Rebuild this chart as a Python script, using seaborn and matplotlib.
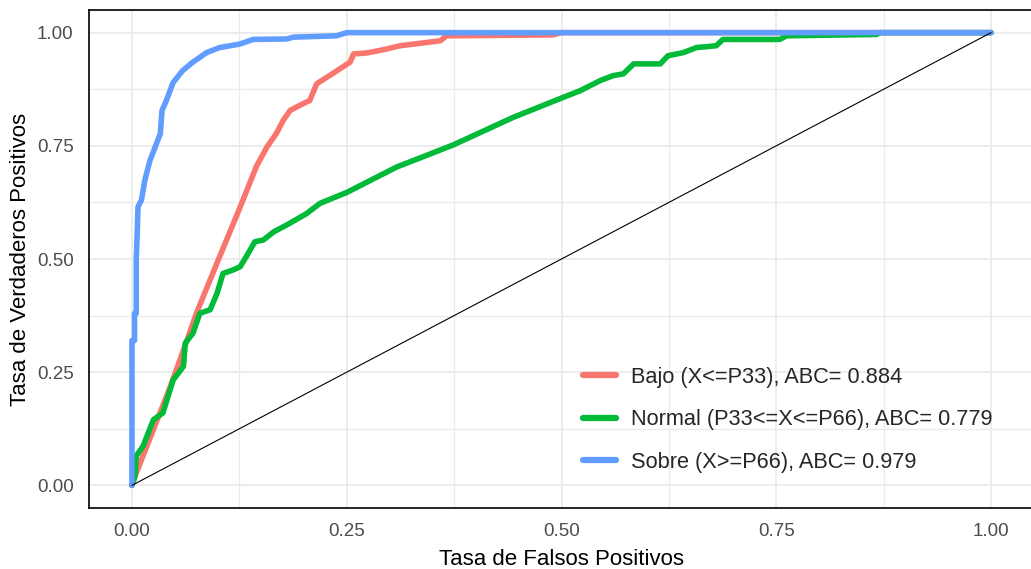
import numpy as np
import pandas as pd
import matplotlib
matplotlib.use("Agg")
import matplotlib.pyplot as plt
import seaborn as sns

# ROC curves (false positive rate, true positive rate) per class
bajo_fpr = [0.0, 0.0035, 0.044, 0.064, 0.075, 0.102, 0.126, 0.145, 0.157, 0.168, 0.176,
            0.184, 0.199, 0.207, 0.215, 0.234, 0.254, 0.258, 0.273, 0.292, 0.312, 0.359,
            0.366, 0.49, 0.50, 1.0]
bajo_tpr = [0.0, 0.02, 0.215, 0.32, 0.38, 0.505, 0.615, 0.705, 0.747, 0.777, 0.806,
            0.828, 0.843, 0.85, 0.887, 0.91, 0.935, 0.953, 0.955, 0.962, 0.971, 0.982,
            0.993, 0.995, 1.0, 1.0]

normal_fpr = [0.0, 0.0035, 0.005, 0.013, 0.025, 0.036, 0.048, 0.060, 0.062, 0.071, 0.079,
              0.091, 0.099, 0.106, 0.118, 0.126, 0.133, 0.143, 0.153, 0.165, 0.18, 0.203,
              0.219, 0.25, 0.308, 0.374, 0.444, 0.502, 0.522, 0.545, 0.56, 0.572, 0.584,
              0.615, 0.624, 0.642, 0.657, 0.68, 0.688, 0.754, 0.762, 0.867, 0.87, 1.0]
normal_tpr = [0.0, 0.02, 0.065, 0.087, 0.145, 0.16, 0.233, 0.263, 0.314, 0.336, 0.38,
              0.388, 0.424, 0.468, 0.476, 0.483, 0.505, 0.538, 0.542, 0.56, 0.575, 0.60,
              0.623, 0.647, 0.703, 0.752, 0.813, 0.857, 0.872, 0.894, 0.905, 0.909, 0.931,
              0.931, 0.949, 0.956, 0.967, 0.971, 0.985, 0.985, 0.993, 0.996, 1.0, 1.0]

sobre_fpr = [0.0, 0.0, 0.003, 0.003, 0.005, 0.005, 0.006, 0.007, 0.011, 0.015, 0.021,
             0.027, 0.033, 0.035, 0.040, 0.048, 0.059, 0.071, 0.087, 0.102, 0.126, 0.141,
             0.18, 0.188, 0.238, 0.25, 1.0]
sobre_tpr = [0.0, 0.32, 0.32, 0.38, 0.38, 0.50, 0.55, 0.615, 0.63, 0.674, 0.718,
             0.747, 0.777, 0.828, 0.850, 0.89, 0.916, 0.935, 0.956, 0.967, 0.975, 0.985,
             0.986, 0.99, 0.993, 1.0, 1.0]

class_labels = ["Bajo (X<=P33), ABC= 0.884",
                "Normal (P33<=X<=P66), ABC= 0.779",
                "Sobre (X>=P66), ABC= 0.979"]
class_colors = ["#F8766D", "#00BA38", "#619CFF"]
tick_values = [0.0, 0.25, 0.5, 0.75, 1.0]
tick_labels = ["0.00", "0.25", "0.50", "0.75", "1.00"]

df = pd.concat([
    pd.DataFrame({"fpr": bajo_fpr, "tpr": bajo_tpr, "clase": class_labels[0]}),
    pd.DataFrame({"fpr": normal_fpr, "tpr": normal_tpr, "clase": class_labels[1]}),
    pd.DataFrame({"fpr": sobre_fpr, "tpr": sobre_tpr, "clase": class_labels[2]}),
], ignore_index=True)

sns.set_theme(style="white")
plt.rcParams["font.family"] = ["Liberation Sans", "DejaVu Sans"]

fig = plt.figure(figsize=(10.31, 5.69), dpi=100)
W, H = 1031, 569
ax = fig.add_axes([89 / W, 1 - 508 / H, (1034 - 89) / W, (508 - 10) / H])

# grid: major and minor lines
for v in tick_values:
    ax.axvline(v, color="#EBEBEB", lw=1.3, zorder=0)
    ax.axhline(v, color="#EBEBEB", lw=1.3, zorder=0)
for v in [0.125, 0.375, 0.625, 0.875]:
    ax.axvline(v, color="#EBEBEB", lw=0.9, zorder=0)
    ax.axhline(v, color="#EBEBEB", lw=0.9, zorder=0)

sns.lineplot(data=df, x="fpr", y="tpr", hue="clase", hue_order=class_labels,
             palette=dict(zip(class_labels, class_colors)), sort=False,
             estimator=None, lw=4.0, ax=ax, zorder=2)

# chance diagonal
ax.plot([0, 1], [0, 1], color="black", lw=0.8, zorder=3)

ax.set_xlim(-0.05, 1.05)
ax.set_ylim(-0.05, 1.05)
ax.set_xticks(tick_values)
ax.set_xticklabels(tick_labels)
ax.set_yticks(tick_values)
ax.set_yticklabels(tick_labels)
ax.tick_params(axis="both", length=0, labelsize=13.5, labelcolor="#4D4D4D")
ax.tick_params(axis="x", pad=11)
ax.tick_params(axis="y", pad=11)

for side in ["left", "top", "bottom", "right"]:
    ax.spines[side].set_visible(True)
    ax.spines[side].set_color("black")
    ax.spines[side].set_linewidth(1.2)

ax.set_xlabel("Tasa de Falsos Positivos", fontsize=16, color="black", labelpad=6)
ax.set_ylabel("Tasa de Verdaderos Positivos", fontsize=16, color="black", labelpad=4)

handles, labels = ax.get_legend_handles_labels()
for h in handles:
    h.set_linewidth(4.5)
ax.legend(handles, labels, loc="upper left", bbox_to_anchor=(583 / W, 1 - 367 / H),
          bbox_transform=fig.transFigure, frameon=False, fontsize=15.7,
          handlelength=1.5, handletextpad=0.7, labelspacing=0.98,
          borderpad=0, borderaxespad=0)

fig.savefig("out.png", dpi=100)
